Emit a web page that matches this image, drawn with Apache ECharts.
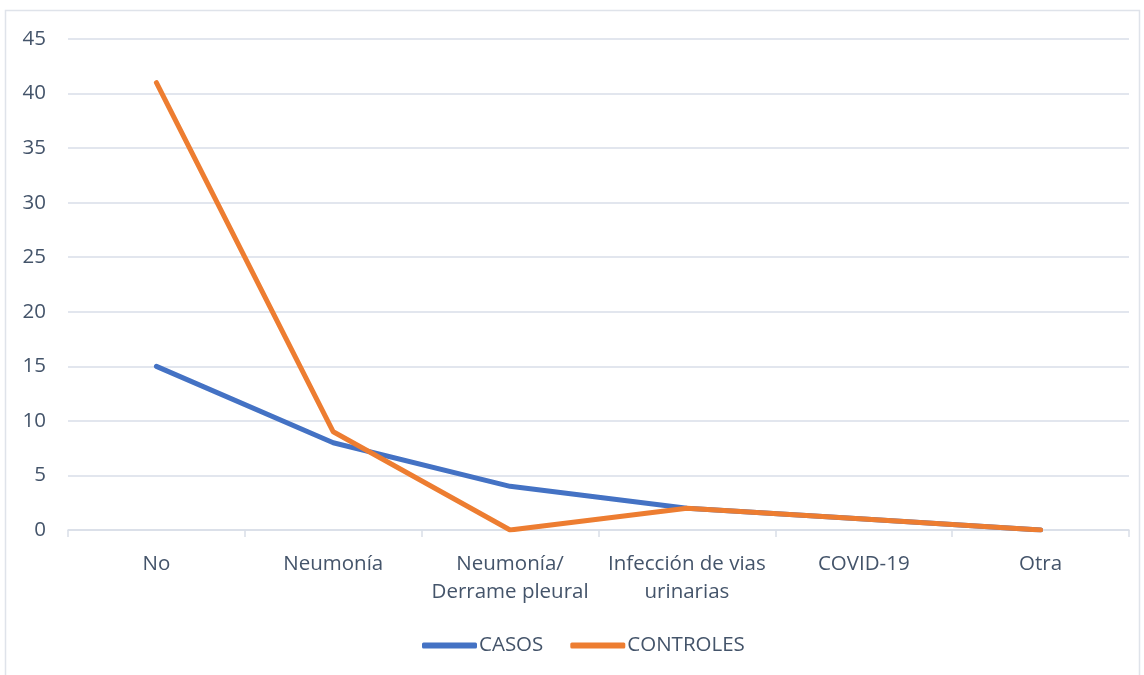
<!DOCTYPE html>
<html>
<head>
<meta charset="utf-8">
<script src="https://cdn.jsdelivr.net/npm/echarts@6/dist/echarts.min.js"></script>
<style>
  html, body { margin: 0; padding: 0; background: #fff; }
  #chart { width: 1144px; height: 675px; }
</style>
</head>
<body>
<div id="chart"></div>
<script>
// Categories and series values
const categories = ['No', 'Neumonía', 'Neumonía/\nDerrame pleural', 'Infección de vias\nurinarias', 'COVID-19', 'Otra'];
const casos = [15, 8, 4, 2, 1, 0];
const controles = [41, 9, 0, 2, 1, 0];
const yMin = 0, yMax = 45, yStep = 5;

const textColor = '#44546a';
const gridColor = '#d9dee8';
const fontFamily = '"Open Sans", "Noto Sans", sans-serif';
const fontSize = 20.5;

const chart = echarts.init(document.getElementById('chart'), null, { renderer: 'canvas' });
chart.setOption({
  backgroundColor: '#ffffff',
  animation: false,
  graphic: [{
    type: 'rect',
    shape: { x: 5.5, y: 10.5, width: 1134, height: 700 },
    style: { fill: 'none', stroke: '#dfe3ea', lineWidth: 1.5 },
    z: -1
  }],
  grid: { left: 68, right: 15, top: 39, bottom: 145 },
  legend: {
    bottom: 14,
    left: 417,
    itemWidth: 55,
    itemHeight: 6,
    itemGap: 27,
    icon: 'roundRect',
    textStyle: { color: textColor, fontSize: fontSize, fontFamily: fontFamily, padding: [0, 0, 0, -3] },
    data: ['CASOS', 'CONTROLES']
  },
  xAxis: {
    type: 'category',
    data: categories,
    boundaryGap: true,
    axisLine: { lineStyle: { color: gridColor, width: 1.5 } },
    axisTick: { show: true, length: 7, lineStyle: { color: gridColor, width: 1.5 } },
    axisLabel: {
      interval: 0, color: textColor, fontSize: fontSize, fontFamily: fontFamily,
      margin: 20, lineHeight: 28
    }
  },
  yAxis: {
    type: 'value',
    min: yMin, max: yMax, interval: yStep,
    axisLine: { show: false },
    axisTick: { show: false },
    splitLine: { lineStyle: { color: gridColor, width: 1.5 } },
    axisLabel: { color: textColor, fontSize: fontSize, fontFamily: fontFamily, margin: 22 }
  },
  series: [
    {
      name: 'CASOS', type: 'line', data: casos,
      symbol: 'none', smooth: false,
      lineStyle: { color: '#4472c4', width: 5, cap: 'round', join: 'round' },
      itemStyle: { color: '#4472c4' }
    },
    {
      name: 'CONTROLES', type: 'line', data: controles,
      symbol: 'none', smooth: false,
      lineStyle: { color: '#ed7d31', width: 5, cap: 'round', join: 'round' },
      itemStyle: { color: '#ed7d31' }
    }
  ]
});
</script>
</body>
</html>
